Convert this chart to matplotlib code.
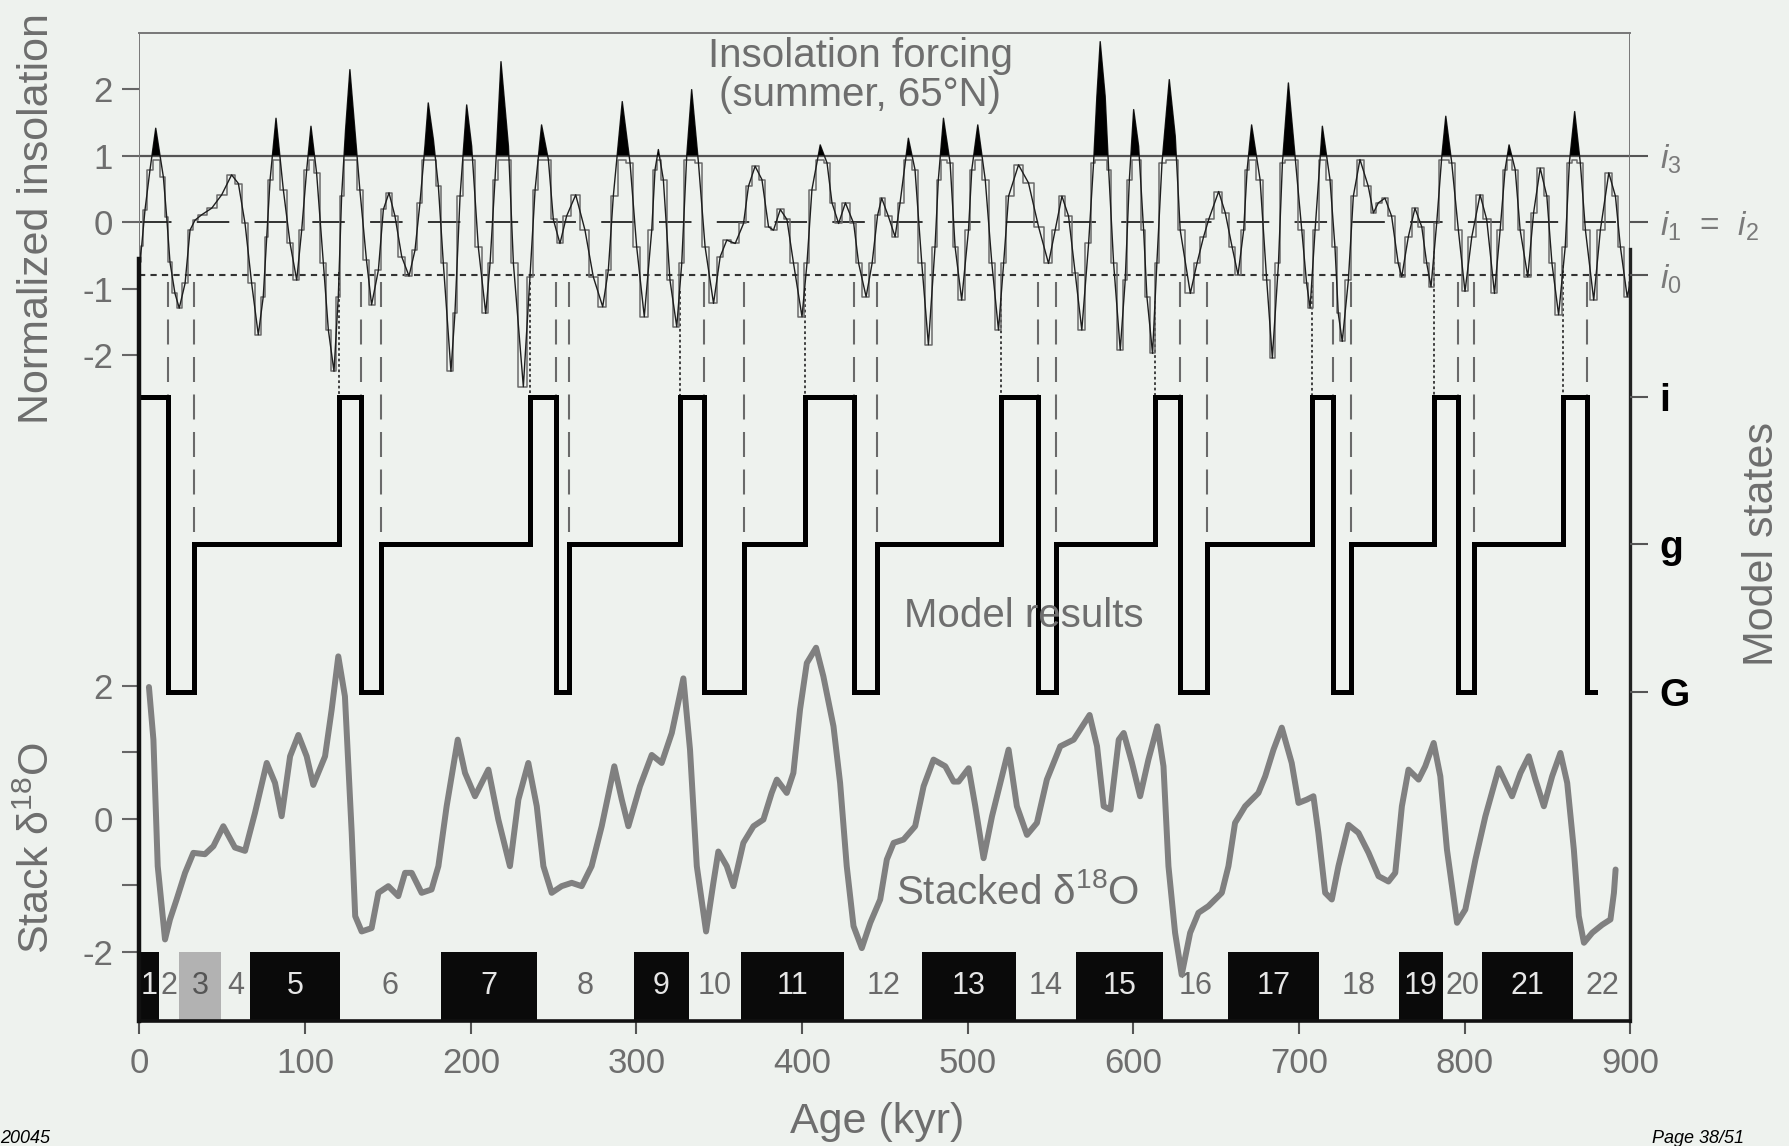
import matplotlib.pyplot as plt
import numpy as np
from matplotlib.transforms import blended_transform_factory

# --- normalized summer insolation at 65N ---
ins_age = np.array([
    0, 1.3, 3.3, 6.3, 9.8, 14.4, 16.4, 18.4, 21.4, 24, 27.5, 30.5, 33.5, 37.5, 43.6, 49.6,
    55.6, 59.7, 63.7, 67.7, 71.7, 74.7, 76.8, 78.8, 82.4, 86.8, 90.9, 94.9, 97.9, 100.9,
    103.5, 106.9, 111, 114, 117.4, 120, 122, 124.4, 127, 130, 133, 137, 140.1, 144.2,
    147.2, 150.6, 154.2, 158.3, 162.7, 166.3, 169.3, 172.3, 174.3, 177.4, 180.4, 183.4,
    188, 190.4, 193.5, 197.5, 200.5, 204.5, 209, 211.6, 214.6, 218.2, 222.7, 225.7,
    231.7, 235.7, 238.8, 242.7, 246.8, 249.8, 253.8, 257.8, 263.3, 268.9, 273.9, 279.6,
    283, 286, 291.4, 296.1, 300.1, 304.7, 309.2, 311.2, 313.2, 316.2, 320.2, 324.3,
    327.3, 330.3, 333.3, 337.4, 341.4, 346.5, 350.5, 354.5, 359.6, 364.6, 367.6, 371.6,
    375.7, 379.7, 382.7, 386.8, 390.8, 394.8, 399.9, 402.9, 405.9, 410.9, 415, 418,
    422, 426.1, 431.1, 434.1, 438.6, 442.2, 445.5, 448, 452, 456.1, 459.1, 464.1, 468.1,
    472.2, 476.2, 480.2, 482.2, 485.3, 489.3, 492.3, 496.3, 500.4, 502.4, 506, 510.5,
    514.5, 518.5, 521.6, 524.6, 530.6, 536.6, 542.7, 548.7, 552.7, 556.8, 560.8, 564.8,
    568.8, 572.9, 575.9, 577.9, 579.9, 582.9, 585, 588, 592, 595, 597.5, 600.1, 603.1,
    606.1, 608.1, 611.5, 614.1, 617.2, 621.6, 625.2, 628.2, 634.3, 638.3, 642.3, 645.4,
    651.4, 655.4, 659.5, 663.1, 666.5, 668.6, 671.3, 676.4, 680.4, 683.8, 687.5, 689.9,
    693.5, 697.5, 701.5, 704.5, 706.6, 709.6, 714, 718.6, 721.6, 723.6, 726, 729.7,
    732.7, 736.7, 741.7, 744.8, 747.8, 751.8, 755.8, 759.8, 761.9, 765.9, 769.9, 774,
    777, 779.6, 783, 786.1, 788.5, 792.1, 796.1, 800.1, 804.2, 809.2, 813.2, 817.9,
    821.3, 824.3, 826.7, 830.4, 833.4, 838, 841.5, 845.5, 849.5, 852.6, 856.6, 860.6,
    863.1, 866.3, 869.7, 872.8, 877.8, 881.8, 886.9, 890.9, 893.9, 898, 900])
ins_val = np.array([
    -0.6, -0.36, 0.18, 0.78, 1.41, 0.68, 0.08, -0.6, -1.07, -1.29, -0.92, -0.12, 0.03, 0.11,
    0.21, 0.41, 0.71, 0.58, -0.02, -0.92, -1.69, -1.12, -0.22, 0.63, 1.56, 0.49, -0.32,
    -0.87, -0.12, 0.78, 1.44, 0.74, -0.62, -1.62, -2.24, -1.12, 0.39, 1.39, 2.29, 1.39,
    0.49, -0.57, -1.24, -0.72, 0.19, 0.44, 0.09, -0.52, -0.81, -0.42, 0.29, 1.14, 1.79,
    1.24, 0.54, -0.62, -2.24, -1.37, 0.39, 1.76, 1.14, -0.37, -1.37, -0.62, 0.64, 2.41,
    1.14, -0.62, -2.47, -0.82, 0.49, 1.46, 0.94, 0.04, -0.32, 0.09, 0.41, -0.12, -0.82,
    -1.27, -0.72, 0.39, 1.81, 0.89, -0.37, -1.42, -0.12, 0.79, 1.09, 0.64, -0.87, -1.57,
    -0.62, 0.99, 1.99, 0.89, -0.37, -1.22, -0.52, -0.27, -0.32, -0.02, 0.54, 0.84, 0.64,
    -0.07, -0.12, 0.19, 0.04, -0.62, -1.42, -0.62, 0.49, 1.16, 0.89, 0.29, -0.02, 0.29,
    -0.02, -0.62, -1.12, -0.62, 0.1, 0.36, 0.09, -0.22, 0.29, 1.26, 0.79, -0.62, -1.84,
    -0.37, 0.64, 1.56, 0.89, -0.37, -1.17, -0.12, 0.79, 1.46, 0.64, -0.62, -1.62, -0.62,
    0.39, 0.86, 0.59, -0.07, -0.62, -0.12, 0.39, 0.09, -0.77, -1.62, -0.32, 0.89, 1.89,
    2.71, 1.89, 0.79, -0.62, -1.92, -0.87, 0.64, 1.69, 1.14, -0.12, -1.12, -1.97, -0.62,
    0.89, 2.14, 1.29, -0.12, -1.07, -0.62, -0.22, 0.04, 0.46, 0.14, -0.37, -0.79, -0.12,
    0.79, 1.46, 0.64, -0.87, -2.04, -0.62, 0.89, 2.09, 0.99, -0.12, -0.92, -1.29, -0.12,
    1.44, 0.64, -0.37, -1.37, -1.79, -0.87, 0.39, 0.94, 0.54, 0.14, 0.29, 0.36, 0.09,
    -0.62, -0.82, -0.22, 0.21, -0.07, -0.62, -0.97, -0.02, 0.99, 1.59, 0.89, -0.12,
    -1.04, -0.22, 0.41, 0.04, -1.07, -0.12, 0.79, 1.16, 0.79, -0.12, -0.82, 0.14, 0.81,
    0.39, -0.62, -1.39, -0.37, 0.89, 1.66, 0.89, -0.12, -1.17, -0.12, 0.74, 0.39, -0.37,
    -1.12, -0.9])

# thresholds
i3 = 1.0
i12 = 0.0
i0 = -0.8

# --- model results: age of each state change, and the new state ---
model_age = [0, 17, 33, 120.5, 134, 145.5, 235.5, 251.5, 259, 326, 341, 365, 401.5, 431,
             445, 520, 542.5, 553.5, 613, 628, 644.5, 707.5, 720.5, 731.5, 781.5, 796,
             805.5, 859.5, 873.5, 878.5]
model_state = ['i', 'G', 'g', 'i', 'G', 'g', 'i', 'G', 'g', 'i', 'G', 'g', 'i', 'G', 'g',
               'i', 'G', 'g', 'i', 'G', 'g', 'i', 'G', 'g', 'i', 'G', 'g', 'i', 'G', 'G']

# --- stacked d18O ---
d18_age = [5.7, 8.4, 11, 15.4, 18.4, 22.4, 27.5, 32.5, 39.5, 44.6, 50.6, 57.6, 63.7, 69.7,
           76.8, 81.8, 85.8, 90.9, 95.9, 100.9, 104.9, 112, 116, 120, 124, 128.1, 130.2,
           134.1, 140.1, 144.2, 150.2, 156.2, 160.3, 164.3, 170.3, 176.3, 180.4, 185.4,
           192.1, 196.5, 202.5, 210.6, 216.6, 223.6, 228.7, 234.7, 239.8, 243.8, 248.8,
           254.8, 260.9, 266.9, 272.9, 279, 286.6, 291.1, 295.1, 302.1, 309.2, 315.2,
           321.3, 328.3, 332.3, 336.4, 342, 346.4, 349.4, 354.5, 358.5, 364.5, 370.6,
           376.6, 381.6, 384.7, 390.7, 394.7, 398.7, 402.8, 408.4, 412.8, 418.9, 422.9,
           426.9, 431, 436, 441.1, 447.1, 451.1, 455.2, 461.2, 468.2, 473.3, 479.3, 486.4,
           491.4, 494.4, 500.5, 504.5, 509.5, 514.6, 524.6, 529.6, 535.7, 541.7, 547.7,
           555.8, 563.9, 573.5, 578, 582, 586.1, 591.1, 594.1, 599, 604, 609, 614.4, 618.1,
           621.1, 625.1, 629.1, 634.2, 639.2, 645.2, 653.3, 657.3, 661.3, 667.4, 675.4,
           679.5, 684.5, 689.5, 695.5, 699.6, 704.6, 708.6, 711.6, 715.7, 719.7, 723.7,
           729.8, 735.8, 741.9, 747.9, 753.9, 758, 762, 766, 772.1, 776.1, 781.2, 785.2,
           789.2, 795.3, 800.3, 806.4, 812.4, 820.5, 828.5, 833.6, 838.6, 842.6, 847.7,
           852.7, 857.7, 861.8, 865.8, 868.8, 871.9, 876.9, 882.9, 887.9, 890, 891]
d18_val = [1.98, 1.19, -0.71, -1.81, -1.51, -1.21, -0.81, -0.51, -0.53, -0.41, -0.11, -0.43,
           -0.48, 0.09, 0.84, 0.54, 0.04, 0.94, 1.26, 0.94, 0.51, 0.94, 1.64, 2.44, 1.84,
           -0.21, -1.46, -1.69, -1.64, -1.11, -1.01, -1.16, -0.81, -0.81, -1.11, -1.06,
           -0.71, 0.19, 1.19, 0.69, 0.34, 0.74, -0.01, -0.71, 0.29, 0.84, 0.19, -0.71,
           -1.11, -1.01, -0.96, -1.01, -0.71, -0.11, 0.79, 0.29, -0.11, 0.49, 0.96, 0.84,
           1.29, 2.11, 1.04, -0.71, -1.69, -0.96, -0.49, -0.71, -1.01, -0.36, -0.11, -0.01,
           0.39, 0.59, 0.39, 0.69, 1.64, 2.34, 2.57, 2.14, 1.39, 0.54, -0.71, -1.61, -1.94,
           -1.56, -1.21, -0.61, -0.36, -0.31, -0.11, 0.49, 0.89, 0.79, 0.56, 0.56, 0.76,
           0.19, -0.59, 0.04, 1.04, 0.19, -0.24, -0.06, 0.59, 1.09, 1.19, 1.56, 1.09, 0.19,
           0.14, 1.19, 1.29, 0.85, 0.34, 0.89, 1.39, 0.79, -0.71, -1.71, -2.34, -1.71,
           -1.41, -1.31, -1.11, -0.71, -0.06, 0.19, 0.39, 0.64, 1.04, 1.37, 0.84, 0.24,
           0.29, 0.34, -0.21, -1.11, -1.21, -0.71, -0.09, -0.21, -0.51, -0.86, -0.94, -0.81,
           0.19, 0.74, 0.59, 0.79, 1.14, 0.64, -0.46, -1.56, -1.36, -0.61, 0.04, 0.76, 0.34,
           0.69, 0.94, 0.59, 0.19, 0.64, 0.99, 0.54, -0.46, -1.46, -1.86, -1.71, -1.59,
           -1.51, -1.11, -0.76]

# --- marine isotope stages: upper age limit of each stage ---
stage_end = [11.5, 24, 49, 67, 121, 182, 240, 298.5, 331.5, 363, 425.5, 472.5, 529, 565.5,
             618, 657, 712, 760, 787, 810.5, 865.5, 900]
stage_names = [str(k) for k in range(1, 23)]
grey_stages = ['3']

# layout of the three stacked panels in one axes
state_level = {'i': -2.62, 'g': -4.83, 'G': -7.05}
d18_shift = -8.96
ymin, ymax = -11.99, 2.84

bg = '#eef2ee'
txt = '#6e6e6e'

plt.rcParams.update({
    'font.family': ['Liberation Sans', 'DejaVu Sans'],
    'mathtext.fontset': 'custom',
    'mathtext.rm': 'Liberation Sans',
    'mathtext.it': 'Liberation Sans:italic',
    'mathtext.bf': 'Liberation Sans:bold',
})

fig = plt.figure(figsize=(17.9, 11.46), dpi=100, facecolor=bg)
ax = fig.add_axes([139.5 / 1790, 1 - 1020.7 / 1146, 1491 / 1790, (1020.7 - 33) / 1146])
ax.set_facecolor(bg)
ax.set_xlim(0, 900)
ax.set_ylim(ymin, ymax)

# stage boxes
box_top = -2 + d18_shift
starts = [0] + stage_end[:-1]
for s0, s1, name in zip(starts, stage_end, stage_names):
    odd = int(name) % 2 == 1
    if name in grey_stages:
        ax.bar(s0, box_top - ymin, width=s1 - s0, bottom=ymin, align='edge',
               color='#b2b2b2', lw=0, zorder=1)
        tcol = '#555555'
    elif odd:
        ax.bar(s0, box_top - ymin, width=s1 - s0, bottom=ymin, align='edge',
               color='#0a0a0a', lw=0, zorder=1)
        tcol = '#e6e6e6'
    else:
        tcol = '#6a6a6a'
    ax.text((s0 + s1) / 2, (box_top + ymin) / 2, name, ha='center', va='center',
            fontsize=22, color=tcol, zorder=2)

# stacked d18O
ax.plot(d18_age, np.array(d18_val) + d18_shift, color='#808080', lw=4.3,
        solid_joinstyle='round', solid_capstyle='round', zorder=3)

# model states
ax.plot(model_age, [state_level[s] for s in model_state], drawstyle='steps-post',
        color='black', lw=3.6, solid_joinstyle='miter', zorder=4)

# threshold lines
ax.axhline(i3, color='#555555', lw=1.6, zorder=2)
ax.axhline(i12, color='#222222', lw=1.3, dashes=(18, 14), zorder=2)
ax.axhline(i0, color='#333333', lw=1.5, dashes=(3, 2.5), zorder=2)

# insolation: stepped version, curve and the part above i3
ax.plot(ins_age, np.minimum(ins_val, i3 - 0.07), drawstyle='steps-mid',
        color='#6b6b6b', lw=1.1, zorder=5)
ax.plot(ins_age, ins_val, color='#1e1e1e', lw=1.0, zorder=6)
ax.fill_between(ins_age, i3, ins_val, where=ins_val > i3, interpolate=True,
                color='black', lw=0, zorder=6)

# guide lines linking insolation to the state changes
for k in range(1, len(model_age) - 1):
    t, prev, cur = model_age[k], model_state[k - 1], model_state[k]
    if prev == 'g' and cur == 'i':
        y0 = np.interp(t, ins_age, ins_val)
        ax.plot([t, t], [y0, state_level['i']], color='#333333', lw=1.3,
                dashes=(1.5, 1.5), zorder=3)
    elif prev == 'i' and cur == 'G':
        ax.plot([t, t], [i0 - 0.1, state_level['i']], color='#6a6a6a', lw=1.5,
                dashes=(12, 6), zorder=3)
    elif prev == 'G' and cur == 'g':
        ax.plot([t, t], [i0 - 0.1, state_level['g']], color='#6a6a6a', lw=1.5,
                dashes=(12, 6), zorder=3)

# spines
for side in ['top', 'left', 'right', 'bottom']:
    ax.spines[side].set_zorder(7)
ax.spines['top'].set_color('#777777')
ax.spines['top'].set_linewidth(1.4)
ax.spines['bottom'].set_color('#111111')
ax.spines['bottom'].set_linewidth(2.6)
ax.spines['left'].set_color('#111111')
ax.spines['left'].set_linewidth(3.2)
ax.spines['left'].set_bounds(ymin, -0.55)
ax.spines['right'].set_color('#222222')
ax.spines['right'].set_linewidth(2.4)
ax.spines['right'].set_bounds(ymin, -0.4)
frac = lambda y: (y - ymin) / (ymax - ymin)
ax.axvline(0, ymin=frac(-0.55), ymax=1, color='#777777', lw=1.4, zorder=7)
ax.axvline(900, ymin=frac(-0.4), ymax=1, color='#777777', lw=1.4, zorder=7)

# left ticks: insolation and d18O
ins_ticks = [2, 1, 0, -1, -2]
d18_ticks = [2, 1, 0, -1, -2]
d18_labels = ['2', '', '0', '', '-2']
ax.set_yticks(ins_ticks + [v + d18_shift for v in d18_ticks])
ax.set_yticklabels([str(v) for v in ins_ticks] + d18_labels)
ax.tick_params(axis='y', direction='out', length=12, width=1.5, color='#666666',
               labelsize=25, labelcolor=txt, pad=7)
ax.set_xticks(np.arange(0, 1000, 100))
ax.tick_params(axis='x', direction='out', length=9, width=1.5, color='#555555',
               labelsize=25, labelcolor=txt, pad=10)

# right ticks: thresholds and model states
ax_r = ax.twinx()
ax_r.set_ylim(ymin, ymax)
for s in ax_r.spines.values():
    s.set_visible(False)
ax_r.set_yticks([i3, i12, i0, state_level['i'], state_level['g'], state_level['G']])
ax_r.set_yticklabels(['$i_3$', r'$i_1$  =  $i_2$', '$i_0$', 'i', 'g', 'G'])
ax_r.tick_params(axis='y', direction='out', length=13, width=1.5, color='#555555', pad=8)
for lab in ax_r.get_yticklabels()[:3]:
    lab.set_fontsize(24)
    lab.set_color('#7a7a7a')
for lab in ax_r.get_yticklabels()[3:]:
    lab.set_fontsize(28)
    lab.set_fontweight('bold')
    lab.set_color('black')

# axis titles and annotations
lx = blended_transform_factory(ax.transAxes, ax.transData)
ax.text(-0.0685, 0.05, 'Normalized insolation', transform=lx, rotation=90,
        ha='center', va='center', fontsize=31, color=txt)
ax.text(-0.0685, -9.40, r'Stack δ$^{18}$O', transform=lx, rotation=90,
        ha='center', va='center', fontsize=31, color=txt)
ax.text(1.088, state_level['g'], 'Model states', transform=lx, rotation=90,
        ha='center', va='center', fontsize=31, color=txt)
fig.text(877 / 1790, 1 - 1122 / 1146, 'Age (kyr)', ha='center', va='center',
         fontsize=31, color=txt)

ax.text(435, 2.20, 'Insolation forcing\n(summer, 65°N)', ha='center', va='center',
        fontsize=29, color=txt, linespacing=1.05, zorder=8)
ax.text(534, -5.92, 'Model results', ha='center', va='center', fontsize=29,
        color=txt, zorder=8)
ax.text(530, -10.07, r'Stacked δ$^{18}$O', ha='center', va='center', fontsize=29,
        color=txt, zorder=8)

fig.text(0.0, 1 - 1130 / 1146, '20045', ha='left', va='top', fontsize=13,
         style='italic', color='black')
fig.text(1652 / 1790, 1 - 1130 / 1146, 'Page 38/51', ha='left', va='top',
         fontsize=13, style='italic', color='black')

fig.savefig('out.png', dpi=100, facecolor=bg)
